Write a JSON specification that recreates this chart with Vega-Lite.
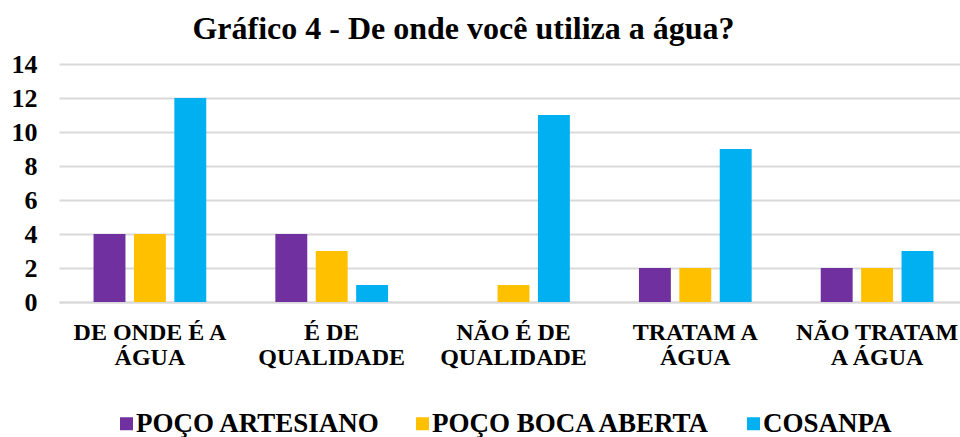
{
  "$schema": "https://vega.github.io/schema/vega-lite/v6.json",
  "width": 909,
  "height": 238,
  "autosize": {"type": "none"},
  "padding": {"left": 59, "top": 64, "right": -8, "bottom": 135},
  "background": "white",
  "title": {
    "text": "Gráfico 4 - De onde você utiliza a água?",
    "font": "Liberation Serif",
    "fontSize": 32,
    "fontWeight": "bold",
    "color": "#000000",
    "anchor": "middle",
    "dx": -50,
    "offset": 5
  },
  "data": {
    "values": [
      {"cat": "DE ONDE É A\nÁGUA", "serie": "POÇO ARTESIANO", "v": 4},
      {"cat": "DE ONDE É A\nÁGUA", "serie": "POÇO BOCA ABERTA", "v": 4},
      {"cat": "DE ONDE É A\nÁGUA", "serie": "COSANPA", "v": 12},
      {"cat": "É DE\nQUALIDADE", "serie": "POÇO ARTESIANO", "v": 4},
      {"cat": "É DE\nQUALIDADE", "serie": "POÇO BOCA ABERTA", "v": 3},
      {"cat": "É DE\nQUALIDADE", "serie": "COSANPA", "v": 1},
      {"cat": "NÃO É DE\nQUALIDADE", "serie": "POÇO ARTESIANO", "v": 0},
      {"cat": "NÃO É DE\nQUALIDADE", "serie": "POÇO BOCA ABERTA", "v": 1},
      {"cat": "NÃO É DE\nQUALIDADE", "serie": "COSANPA", "v": 11},
      {"cat": "TRATAM A\nÁGUA", "serie": "POÇO ARTESIANO", "v": 2},
      {"cat": "TRATAM A\nÁGUA", "serie": "POÇO BOCA ABERTA", "v": 2},
      {"cat": "TRATAM A\nÁGUA", "serie": "COSANPA", "v": 9},
      {"cat": "NÃO TRATAM\nA ÁGUA", "serie": "POÇO ARTESIANO", "v": 2},
      {"cat": "NÃO TRATAM\nA ÁGUA", "serie": "POÇO BOCA ABERTA", "v": 2},
      {"cat": "NÃO TRATAM\nA ÁGUA", "serie": "COSANPA", "v": 3}
    ]
  },
  "mark": {"type": "bar"},
  "encoding": {
    "x": {
      "field": "cat",
      "type": "nominal",
      "sort": null,
      "scale": {"paddingInner": 0.38, "paddingOuter": 0.19},
      "axis": {
        "title": null,
        "labelExpr": "split(datum.value, '\\n')",
        "labelAngle": 0,
        "labelFont": "Liberation Serif",
        "labelFontSize": 24,
        "labelFontWeight": "bold",
        "labelColor": "#000000",
        "labelLineHeight": 25,
        "labelPadding": 18,
        "labelLimit": 300,
        "ticks": false,
        "domain": true,
        "domainColor": "#d9d9d9",
        "domainWidth": 2
      }
    },
    "xOffset": {
      "field": "serie",
      "type": "nominal",
      "sort": ["POÇO ARTESIANO", "POÇO BOCA ABERTA", "COSANPA"],
      "scale": {"paddingInner": 0.21}
    },
    "y": {
      "field": "v",
      "type": "quantitative",
      "scale": {"domain": [0, 14]},
      "axis": {
        "title": null,
        "values": [0, 2, 4, 6, 8, 10, 12, 14],
        "labelFont": "Liberation Serif",
        "labelFontSize": 26,
        "labelFontWeight": "bold",
        "labelColor": "#000000",
        "labelPadding": 22,
        "ticks": false,
        "domain": false,
        "gridColor": "#d9d9d9",
        "gridWidth": 2
      }
    },
    "color": {
      "field": "serie",
      "type": "nominal",
      "sort": ["POÇO ARTESIANO", "POÇO BOCA ABERTA", "COSANPA"],
      "scale": {
        "domain": ["POÇO ARTESIANO", "POÇO BOCA ABERTA", "COSANPA"],
        "range": ["#7030A0", "#FFC000", "#00B0F0"]
      },
      "legend": {
        "title": null,
        "orient": "none",
        "direction": "horizontal",
        "legendX": 54,
        "legendY": 346,
        "padding": 0,
        "symbolType": "square",
        "symbolSize": 169,
        "symbolStrokeWidth": 0,
        "labelFont": "Liberation Serif",
        "labelFontSize": 27,
        "labelFontWeight": "bold",
        "labelColor": "#000000",
        "labelOffset": -4,
        "columnPadding": 28,
        "labelLimit": 400
      }
    }
  },
  "config": {
    "view": {"stroke": null},
    "font": "Liberation Serif",
    "legend": {"labelFont": "Liberation Serif"},
    "axis": {"labelFont": "Liberation Serif"}
  }
}
